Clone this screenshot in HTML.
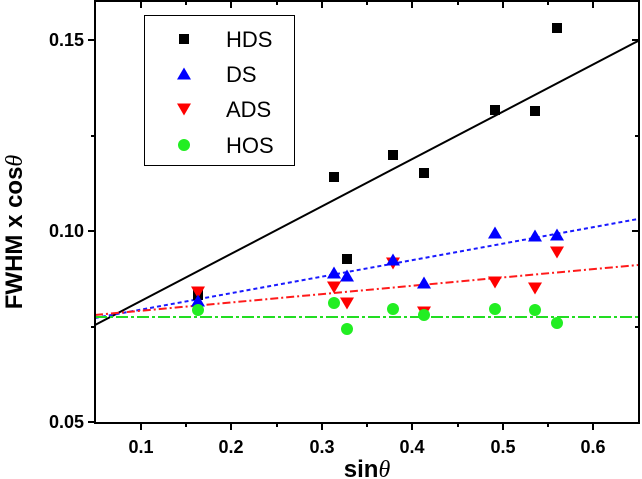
<!DOCTYPE html>
<html><head><style>body{margin:0;background:#fff}svg{display:block}</style></head><body>
<svg width="642" height="479" viewBox="0 0 642 479" xmlns="http://www.w3.org/2000/svg" font-family="Liberation Sans, Arial, sans-serif">
<rect width="642" height="479" fill="#fff"/>
<line x1="95" y1="325" x2="638" y2="41" stroke="#000" stroke-width="2"/>
<line x1="95" y1="318" x2="638" y2="219" stroke="#1a1aff" stroke-width="2" stroke-dasharray="4,3"/>
<line x1="95" y1="315" x2="638" y2="265" stroke="#ff1a1a" stroke-width="2" stroke-dasharray="8,3,2,3"/>
<line x1="95" y1="317" x2="638" y2="317" stroke="#22dd22" stroke-width="2" stroke-dasharray="12,3,3,3"/>
<defs>
<rect id="sq" x="-5" y="-5" width="10" height="10" fill="#000"/>
<polygon id="tu" points="0,-6.5 7,5.5 -7,5.5" fill="#0000ff"/>
<polygon id="td" points="-7,-5.5 7,-5.5 0,6.5" fill="#ff0000"/>
<circle id="ci" r="6" fill="#22ee22"/>
</defs>
<use href="#sq" x="198" y="295"/><use href="#sq" x="334" y="177"/><use href="#sq" x="347" y="259"/><use href="#sq" x="393" y="155"/><use href="#sq" x="424" y="173"/><use href="#sq" x="495" y="110"/><use href="#sq" x="535" y="111"/><use href="#sq" x="557" y="28"/>
<use href="#td" x="198" y="292"/><use href="#td" x="334" y="287"/><use href="#td" x="347" y="303"/><use href="#td" x="393" y="263"/><use href="#td" x="424" y="312"/><use href="#td" x="495" y="282"/><use href="#td" x="535" y="288"/><use href="#td" x="557" y="252"/>
<use href="#tu" x="198" y="301"/><use href="#tu" x="334" y="273"/><use href="#tu" x="347" y="276"/><use href="#tu" x="393" y="260"/><use href="#tu" x="424" y="283"/><use href="#tu" x="495" y="233"/><use href="#tu" x="535" y="236"/><use href="#tu" x="557" y="235"/>
<use href="#ci" x="198" y="310"/><use href="#ci" x="334" y="303"/><use href="#ci" x="347" y="329"/><use href="#ci" x="393" y="309"/><use href="#ci" x="424" y="315"/><use href="#ci" x="495" y="309"/><use href="#ci" x="535" y="310"/><use href="#ci" x="557" y="323"/>
<rect x="95" y="1" width="544" height="422" fill="none" stroke="#000" stroke-width="2"/>
<g stroke="#000" stroke-width="2">
<line x1="141" y1="423" x2="141" y2="430"/><line x1="231" y1="423" x2="231" y2="430"/><line x1="322" y1="423" x2="322" y2="430"/><line x1="412" y1="423" x2="412" y2="430"/><line x1="503" y1="423" x2="503" y2="430"/><line x1="593" y1="423" x2="593" y2="430"/>
<line x1="186" y1="423" x2="186" y2="427"/><line x1="277" y1="423" x2="277" y2="427"/><line x1="367" y1="423" x2="367" y2="427"/><line x1="458" y1="423" x2="458" y2="427"/><line x1="548" y1="423" x2="548" y2="427"/>
<line x1="141" y1="1" x2="141" y2="8"/><line x1="231" y1="1" x2="231" y2="8"/><line x1="322" y1="1" x2="322" y2="8"/><line x1="412" y1="1" x2="412" y2="8"/><line x1="503" y1="1" x2="503" y2="8"/><line x1="593" y1="1" x2="593" y2="8"/>
<line x1="186" y1="1" x2="186" y2="5"/><line x1="277" y1="1" x2="277" y2="5"/><line x1="367" y1="1" x2="367" y2="5"/><line x1="458" y1="1" x2="458" y2="5"/><line x1="548" y1="1" x2="548" y2="5"/>
<line x1="88" y1="40" x2="95" y2="40"/><line x1="88" y1="231" x2="95" y2="231"/><line x1="88" y1="422" x2="95" y2="422"/>
<line x1="91" y1="136" x2="95" y2="136"/><line x1="91" y1="327" x2="95" y2="327"/>
<line x1="632" y1="40" x2="639" y2="40"/><line x1="632" y1="231" x2="639" y2="231"/>
<line x1="635" y1="136" x2="639" y2="136"/><line x1="635" y1="327" x2="639" y2="327"/>
</g>
<g font-size="18" font-weight="bold" fill="#000">
<text x="84" y="46" text-anchor="end">0.15</text>
<text x="84" y="237" text-anchor="end">0.10</text>
<text x="84" y="428" text-anchor="end">0.05</text>
<g text-anchor="middle">
<text x="141" y="453">0.1</text><text x="231" y="453">0.2</text><text x="322" y="453">0.3</text><text x="412" y="453">0.4</text><text x="503" y="453">0.5</text><text x="593" y="453">0.6</text>
</g>
</g>
<text x="367" y="477" text-anchor="middle" font-size="24" font-weight="bold">sin<tspan font-family="Liberation Serif, serif" font-style="italic" font-weight="normal">θ</tspan></text>
<text transform="translate(22,232) rotate(-90)" text-anchor="middle" font-size="24" font-weight="bold">FWHM x cos<tspan font-family="Liberation Serif, serif" font-style="italic" font-weight="normal">θ</tspan></text>
<rect x="144.5" y="15.5" width="150" height="150" fill="#fff" stroke="#000" stroke-width="1"/>
<use href="#sq" x="184" y="39"/>
<use href="#tu" x="184" y="74"/>
<use href="#td" x="184" y="109"/>
<use href="#ci" x="184" y="145"/>
<g font-size="22" fill="#000">
<text x="226" y="47">HDS</text>
<text x="226" y="82">DS</text>
<text x="226" y="117">ADS</text>
<text x="226" y="153">HOS</text>
</g>
</svg>
</body></html>
